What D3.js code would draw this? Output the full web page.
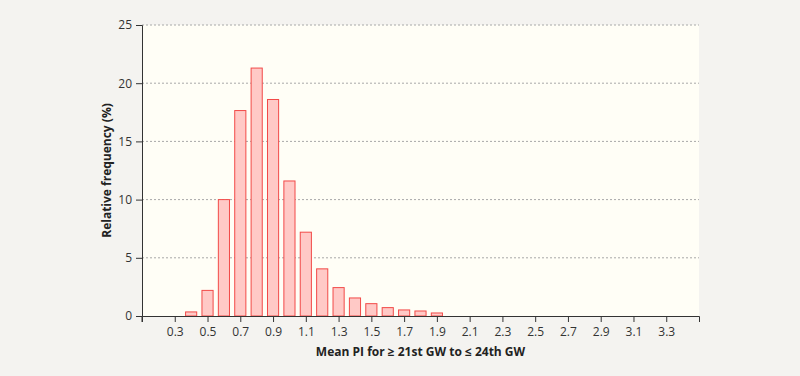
<!DOCTYPE html>
<html>
<head>
<meta charset="utf-8">
<script src="https://cdn.jsdelivr.net/npm/d3@7"></script>
<style>
  body { margin: 0; background: #f4f3f0; }
  text { font-family: "Open Sans", sans-serif; }
</style>
</head>
<body>
<div id="chart"></div>
<script>

// bin centres and relative frequencies (%)
var binCenters = [0.4, 0.5, 0.6, 0.7, 0.8, 0.9, 1.0, 1.1, 1.2, 1.3, 1.4, 1.5, 1.6, 1.7, 1.8, 1.9];
var frequencies = [0.35, 2.2, 10.0, 17.65, 21.3, 18.6, 11.6, 7.2, 4.05, 2.44, 1.55, 1.06, 0.72, 0.52, 0.43, 0.26];
var xTicks = [0.3, 0.5, 0.7, 0.9, 1.1, 1.3, 1.5, 1.7, 1.9, 2.1, 2.3, 2.5, 2.7, 2.9, 3.1, 3.3];
var yTicks = [0, 5, 10, 15, 20, 25];

var margin = {top: 25, right: 101, bottom: 60, left: 142},
    width = 800 - margin.left - margin.right,
    height = 376 - margin.top - margin.bottom;

var svg = d3.select('#chart')
    .append('svg')
    .attr('width', 800)
    .attr('height', 376)
    .append('g')
    .attr('transform', 'translate(' + margin.left + ',' + margin.top + ')');

var x = d3.scaleLinear().domain([0.1, 3.5]).range([0, width]);
var y = d3.scaleLinear().domain([0, 25]).range([height, 0]);

// plot background
svg.append('rect')
    .attr('width', width)
    .attr('height', height)
    .attr('fill', '#fffef6');

// dotted grid lines
svg.selectAll('.grid')
    .data(yTicks.slice(1))
    .enter().append('line')
    .attr('x1', 0).attr('x2', width)
    .attr('y1', function(d) { return y(d); })
    .attr('y2', function(d) { return y(d); })
    .attr('stroke', '#a8a8a8')
    .attr('stroke-width', 1)
    .attr('stroke-dasharray', '2,2');

// bars
var barW = (x(0.2) - x(0.1)) * 0.68;
svg.selectAll('.bar')
    .data(binCenters)
    .enter().append('rect')
    .attr('x', function(d) { return x(d) - barW / 2; })
    .attr('width', barW)
    .attr('y', function(d, i) { return y(frequencies[i]); })
    .attr('height', function(d, i) { return height - y(frequencies[i]); })
    .attr('fill', '#ffc9c6')
    .attr('stroke', '#f24a48')
    .attr('stroke-width', 1);

// x axis
var xAxis = svg.append('g')
    .attr('transform', 'translate(0,' + height + ')')
    .call(d3.axisBottom(x).tickValues(xTicks).tickFormat(d3.format('.1f')).tickSizeOuter(0).tickSize(6).tickPadding(5));
xAxis.select('.domain').attr('stroke', '#333');
xAxis.selectAll('.tick line').attr('stroke', '#333');
xAxis.selectAll('text').attr('fill', '#333').style('font-size', '12px');
xAxis.append('line').attr('x1', 0).attr('x2', 0).attr('y1', 0).attr('y2', 6).attr('stroke', '#333');

// y axis
var yAxis = svg.append('g')
    .call(d3.axisLeft(y).tickValues(yTicks).tickSizeOuter(0).tickSize(6).tickPadding(4));
yAxis.select('.domain').attr('stroke', '#333');
yAxis.selectAll('.tick line').attr('stroke', '#333');
yAxis.selectAll('text').attr('fill', '#333').style('font-size', '12px');

// axis titles
svg.append('text')
    .attr('x', width / 2)
    .attr('y', height + 40)
    .attr('text-anchor', 'middle')
    .style('font-size', '12px')
    .style('font-weight', 'bold')
    .attr('fill', '#222')
    .text('Mean PI for \u2265 21st GW to \u2264 24th GW');

svg.append('text')
    .attr('transform', 'rotate(-90)')
    .attr('x', -height / 2)
    .attr('y', -31)
    .attr('text-anchor', 'middle')
    .style('font-size', '12px')
    .style('font-weight', 'bold')
    .attr('fill', '#222')
    .text('Relative frequency (%)');

</script>
</body>
</html>
